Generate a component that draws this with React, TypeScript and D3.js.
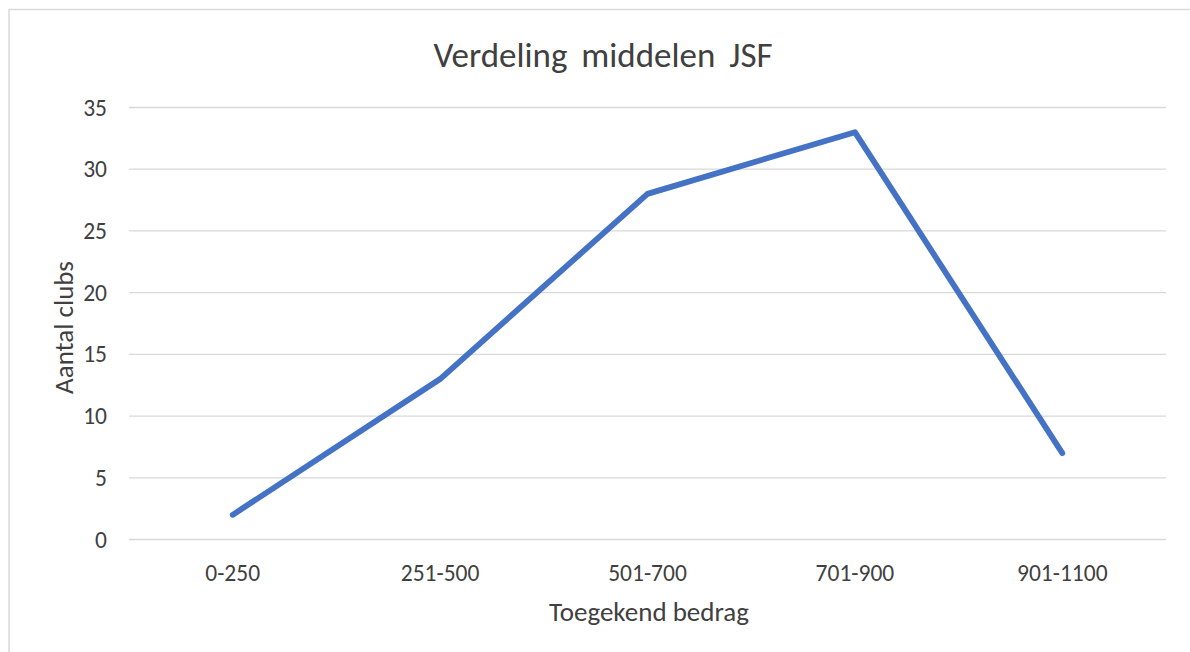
import React from "react";
import * as d3 from "d3";

const categories = ["0-250", "251-500", "501-700", "701-900", "901-1100"];
const values = [2, 13, 28, 33, 7];
const yTicks = [0, 5, 10, 15, 20, 25, 30, 35];
const title = "Verdeling middelen JSF";
const xTitle = "Toegekend bedrag";
const yTitle = "Aantal clubs";

const W = 1190;
const H = 652;
const FONT = "Carlito, Lato, 'Liberation Sans', sans-serif";

export default function App() {
  const left = 129, right = 1166, top = 107.5, bottom = 539.5;
  const x = d3.scaleBand<string>().domain(categories).range([left, right]);
  const y = d3.scaleLinear().domain([0, 35]).range([bottom, top]);
  const line = d3
    .line<number>()
    .x((_, i) => (x(categories[i]) as number) + x.bandwidth() / 2)
    .y((d) => y(d));

  return (
    <svg
      width={W}
      height={H}
      style={{ position: "absolute", left: 0, top: 0, background: "#fff" }}
      fontFamily={FONT}
    >
      <rect x={0} y={0} width={W} height={H} fill="#fff" />
      <rect x={9} y={9.5} width={W + 20} height={H + 20} fill="none" stroke="#d9d9d9" strokeWidth={1.5} />
      <text x={603} y={55} textAnchor="middle" dominantBaseline="central" fontSize={35} fill="#404040" wordSpacing={6}>
        {title}
      </text>
      {yTicks.map((t) => (
        <g key={t}>
          <line x1={left} x2={right} y1={y(t)} y2={y(t)} stroke="#d9d9d9" strokeWidth={1.3} />
          <text x={107} y={y(t)} textAnchor="end" dominantBaseline="central" fontSize={23.5} fill="#404040">
            {t}
          </text>
        </g>
      ))}
      {categories.map((c) => (
        <text
          key={c}
          x={(x(c) as number) + x.bandwidth() / 2}
          y={573}
          textAnchor="middle"
          dominantBaseline="central"
          fontSize={23.5}
          fill="#404040"
        >
          {c}
        </text>
      ))}
      <path d={line(values) || ""} fill="none" stroke="#4472c4" strokeWidth={5.8} strokeLinejoin="round" strokeLinecap="round" />
      <text x={649} y={611} textAnchor="middle" dominantBaseline="central" fontSize={27} fill="#404040">
        {xTitle}
      </text>
      <text
        transform={`translate(63,${(top + bottom) / 2 + 4}) rotate(-90)`}
        textAnchor="middle"
        dominantBaseline="central"
        fontSize={27}
        fill="#404040"
      >
        {yTitle}
      </text>
    </svg>
  );
}
